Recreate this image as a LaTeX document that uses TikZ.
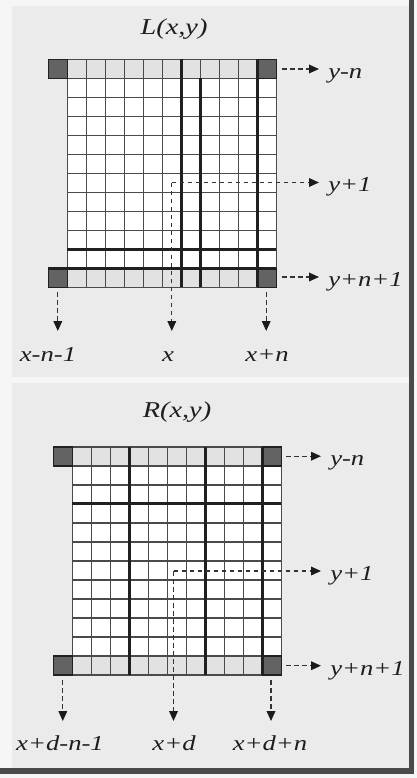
\documentclass[tikz,border=0pt]{standalone}
\usepackage{fontspec}
\newfontfamily\labfont[FakeStretch=1.25]{Liberation Serif}
\usetikzlibrary{arrows.meta}
\definecolor{outerbg}{HTML}{F6F6F6}
\definecolor{panelbg}{HTML}{EBEBEB}
\definecolor{rowgrey}{HTML}{E2E2E2}
\definecolor{cornerc}{HTML}{636363}
\definecolor{gridc}{HTML}{4A4A4A}
\definecolor{thickc}{HTML}{202020}
\definecolor{framec}{HTML}{4A4A4A}
\definecolor{textc}{HTML}{1E1E1E}
\definecolor{arrowc}{HTML}{333333}
\definecolor{tipc}{HTML}{1A1A1A}
\newcommand\gridcells{%
  \fill[white] (1,0) rectangle (12,12);
  \fill[rowgrey] (1,0) rectangle (11,1) (1,11) rectangle (11,12);
  \fill[cornerc] (0,0) rectangle (1,1) (11,0) rectangle (12,1)
                 (0,11) rectangle (1,12) (11,11) rectangle (12,12);
  \foreach \i in {1,...,12} \draw[gridthin] (\i,0) -- (\i,12);
  \draw[gridthin] (0,0) -- (0,1) (0,11) -- (0,12);
  \foreach \j in {2,...,10} \draw[gridthin] (1,\j) -- (12,\j);
  \foreach \j in {0,1,11,12} \draw[gridthin] (0,\j) -- (12,\j);
  \draw[cornerline] (0,0) rectangle (1,1) (11,0) rectangle (12,1)
                    (0,11) rectangle (1,12) (11,11) rectangle (12,12);
}
\begin{document}
\begin{tikzpicture}[x=0.75pt,y=-0.75pt,
  gridthin/.style={draw=gridc,line width=1.2pt},
  gridthick/.style={draw=thickc,line width=2.5pt},
  cornerline/.style={draw=thickc,line width=1.2pt},
  lab/.style={font=\labfont\itshape\fontsize{16}{19}\selectfont,text=textc,inner sep=0pt},
  ttl/.style={font=\labfont\itshape\fontsize{17}{20}\selectfont,text=textc,inner sep=0pt},
  darr/.style={draw=arrowc,line width=1pt,dash pattern=on 3.5pt off 2.5pt,
     -{Triangle[length=7.5pt,width=6.5pt,color=tipc,fill=tipc]}}]
\useasboundingbox (0,0) rectangle (417,778);
\fill[outerbg] (0,0) rectangle (417,778);
\fill[panelbg] (12,6) rectangle (409,377);
\fill[panelbg] (12,383) rectangle (409,768);
\fill[framec] (409,0) rectangle (414,772);
\fill[framec] (0,768) rectangle (414,774);

% ---------- top panel L(x,y) ----------
\node[ttl,anchor=base] (Ltitle) at (174,34) {L(x,y)};
\begin{scope}[shift={(48.3,59.3)},x=14.25pt,y=-14.25pt]
  \gridcells
  \draw[gridthick] (7,0) -- (7,12);
  \draw[gridthick] (8,1) -- (8,12);
  \draw[gridthick] (11,0) -- (11,12);
  \draw[gridthick] (1,10) -- (12,10);
  \draw[gridthick] (0,11) -- (12,11);
\end{scope}
\coordinate (Lp) at (171.8,182.5);
\coordinate (Lr0s) at (282,69)   ; \coordinate (Lr0e) at (319,69);
\coordinate (Lr1e) at (319,182.5);
\coordinate (Lr2s) at (282,277)  ; \coordinate (Lr2e) at (319,277);
\coordinate (Lb0s) at (57.8,292) ; \coordinate (Lb0e) at (57.8,331);
\coordinate (Lb1e) at (171.8,331);
\coordinate (Lb2s) at (266.2,292); \coordinate (Lb2e) at (266.2,331);
\draw[darr] (Lr0s) -- (Lr0e);
\draw[darr] (Lp) -- (Lr1e);
\draw[darr] (Lr2s) -- (Lr2e);
\draw[darr] (Lb0s) -- (Lb0e);
\draw[darr] (Lp) -- (Lb1e);
\draw[darr] (Lb2s) -- (Lb2e);
\node[lab,anchor=base west] (Lyn)  at (328,78)  {y-n};
\node[lab,anchor=base west] (Ly1)  at (328,191.5) {y+1};
\node[lab,anchor=base west] (Lynn) at (328,286) {y+n+1};
\node[lab,anchor=base] (Lxn1) at (48,361)  {x-n-1};
\node[lab,anchor=base] (Lx)   at (168,361) {x};
\node[lab,anchor=base] (Lxn)  at (267,361) {x+n};

% ---------- bottom panel R(x,y) ----------
\node[ttl,anchor=base] (Rtitle) at (177,417) {R(x,y)};
\begin{scope}[shift={(53.3,446.7)},x=14.25pt,y=-14.25pt]
  \gridcells
  \draw[gridthick] (4,0) -- (4,12);
  \draw[gridthick] (8,0) -- (8,12);
  \draw[gridthick] (11,0) -- (11,12);
  \draw[gridthick] (1,3) -- (12,3);
\end{scope}
\coordinate (Rp) at (173.5,571);
\coordinate (Rr0s) at (286,456.2); \coordinate (Rr0e) at (321,456.2);
\coordinate (Rr1e) at (321,571);
\coordinate (Rr2s) at (286,665.7); \coordinate (Rr2e) at (321,665.7);
\coordinate (Rb0s) at (62.8,680); \coordinate (Rb0e) at (62.8,721);
\coordinate (Rb1e) at (173.5,721);
\coordinate (Rb2s) at (271,680);  \coordinate (Rb2e) at (271,721);
\draw[darr] (Rr0s) -- (Rr0e);
\draw[darr] (Rp) -- (Rr1e);
\draw[darr] (Rr2s) -- (Rr2e);
\draw[darr] (Rb0s) -- (Rb0e);
\draw[darr] (Rp) -- (Rb1e);
\draw[darr] (Rb2s) -- (Rb2e);
\node[lab,anchor=base west] (Ryn)  at (330,465)  {y-n};
\node[lab,anchor=base west] (Ry1)  at (330,580)  {y+1};
\node[lab,anchor=base west] (Rynn) at (330,675)  {y+n+1};
\node[lab,anchor=base] (Rxd1) at (60,750)  {x+d-n-1};
\node[lab,anchor=base] (Rxd)  at (174,750) {x+d};
\node[lab,anchor=base] (Rxdn) at (270,750) {x+d+n};
\end{tikzpicture}
\end{document}
